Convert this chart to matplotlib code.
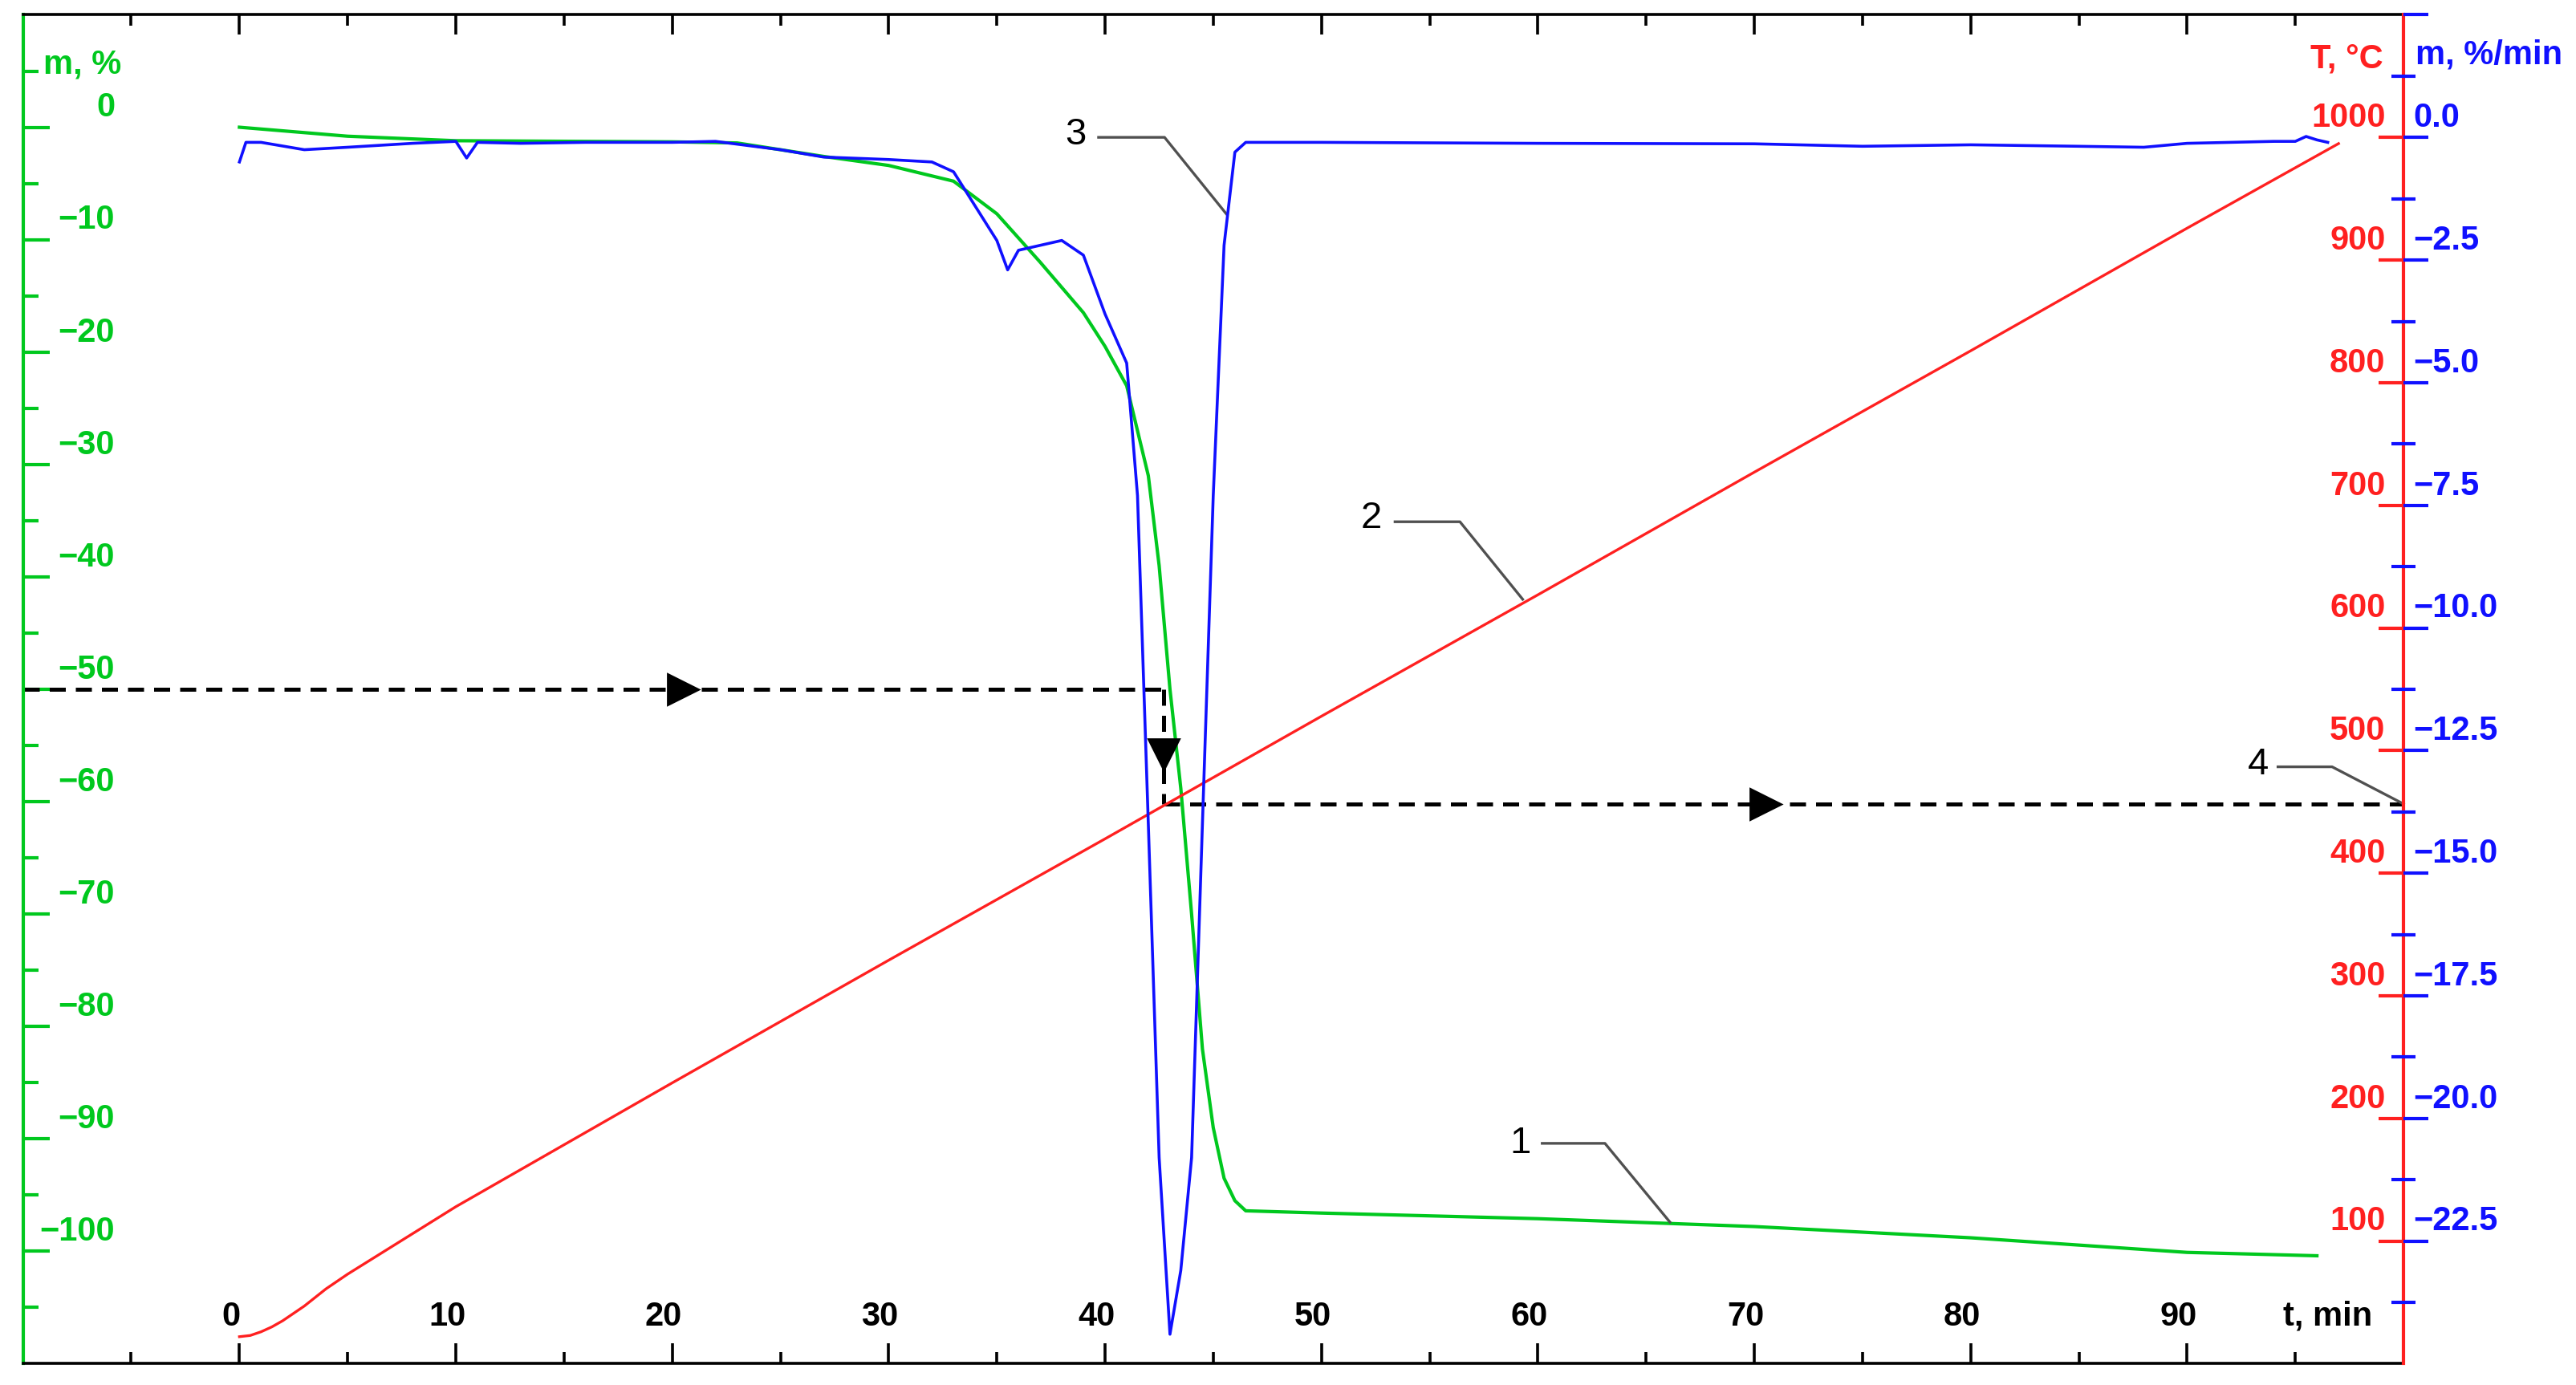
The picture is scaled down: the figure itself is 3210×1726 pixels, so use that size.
import matplotlib
matplotlib.use("Agg")
import matplotlib.pyplot as plt
import numpy as np

plt.rcParams['font.family'] = ['Liberation Sans', 'DejaVu Sans']

# --- data ---
tg_t = [0, 5, 10, 20, 23, 27, 30, 33, 35, 37, 39, 40, 41, 42, 42.5, 43, 43.5, 44, 44.5, 45, 45.5, 46, 46.5, 50, 60, 70, 80, 90, 96]
tg_m = [0, -0.8, -1.2, -1.3, -1.4, -2.6, -3.4, -4.8, -7.7, -12, -16.5, -19.5, -23, -31, -39, -50, -58.8, -70, -82, -89, -93.5, -95.5, -96.4, -96.6, -97.1, -97.8, -98.8, -100.1, -100.4]

T_t = [0, 0.5, 1, 1.5, 2, 2.5, 3, 3.5, 4, 5, 6, 10, 20, 30, 40, 50, 60, 70, 80, 90, 97]
T_val = [22, 23, 26, 30, 35, 41, 47, 54, 61, 73, 84, 128, 229, 329, 428, 528, 627, 727, 826, 926, 995]

dtg_t = [0, 0.3, 1, 3, 5, 8, 10, 10.5, 11, 13, 16, 20, 22, 25, 27, 30, 32, 33, 34, 35, 35.5, 36, 37, 38, 39, 40, 41, 41.5, 42, 42.5, 43, 43.5, 44, 44.5, 45, 45.5, 46, 46.5, 50, 60, 70, 75, 80, 85, 88, 90, 94, 95, 95.5, 96, 96.5]
dtg_v = [-0.5, -0.1, -0.1, -0.25, -0.2, -0.12, -0.08, -0.42, -0.1, -0.12, -0.1, -0.1, -0.08, -0.25, -0.4, -0.45, -0.5, -0.7, -1.4, -2.1, -2.7, -2.3, -2.2, -2.1, -2.4, -3.6, -4.6, -7.3, -14, -20.8, -24.4, -23.1, -20.8, -14, -7.3, -2.2, -0.3, -0.1, -0.1, -0.12, -0.13, -0.18, -0.15, -0.18, -0.2, -0.12, -0.08, -0.08, 0.02, -0.05, -0.1]

t_labels = [0, 10, 20, 30, 40, 50, 60, 70, 80, 90]
m_labels = [0, -10, -20, -30, -40, -50, -60, -70, -80, -90, -100]
T_labels = [100, 200, 300, 400, 500, 600, 700, 800, 900, 1000]
d_labels = [0.0, -2.5, -5.0, -7.5, -10.0, -12.5, -15.0, -17.5, -20.0, -22.5]

GREEN = '#00c81e'
RED = '#ff2020'
BLUE = '#1010ff'
FS = 15

fig = plt.figure(figsize=(16.05, 8.63), dpi=200)
ax = fig.add_axes([0.00893, 0.0154, 0.9241, 0.9739])
axT = ax.twinx()
axB = ax.twinx()

ax.set_xlim(-10, 100)
ax.set_ylim(-110, 10)
axT.set_ylim(0, 1100)
axB.set_ylim(-25, 2.5)

axT.plot(T_t, T_val, color=RED, lw=1.2)
ax.plot(tg_t, tg_m, color=GREEN, lw=1.5)
axB.plot(dtg_t, dtg_v, color=BLUE, lw=1.3)

# dashed guides
dk = dict(color='black', lw=1.8, ls=(0, (4, 2.5)))
ax.plot([-10, 42.7], [-50, -50], **dk)
ax.plot([42.7, 42.7], [-50, -60.2], **dk)
ax.plot([42.7, 100], [-60.2, -60.2], **dk)
ax.plot([20.5], [-50], marker='>', color='black', ms=14)
ax.plot([42.7], [-55.8], marker='v', color='black', ms=14)
ax.plot([70.5], [-60.2], marker='>', color='black', ms=14)

# spines
ax.spines['left'].set_color(GREEN); ax.spines['left'].set_linewidth(1.5)
ax.spines['right'].set_visible(False)
for s in ['top', 'bottom']:
    ax.spines[s].set_linewidth(1.3)
for a in (axT, axB):
    for s in ['left', 'top', 'bottom']:
        a.spines[s].set_visible(False)
axT.spines['right'].set_color(RED); axT.spines['right'].set_linewidth(1.5)
axB.spines['right'].set_visible(False)

# ticks
ax.set_xticks(np.arange(-10, 101, 10))
ax.set_xticks(np.arange(-5, 100, 5), minor=True)
ax.tick_params(axis='x', which='both', top=True, bottom=True, direction='in', labelbottom=False, color='black', width=1.3)
ax.tick_params(axis='x', which='major', length=9)
ax.tick_params(axis='x', which='minor', length=5)
ax.set_yticks(m_labels)
ax.set_yticks(np.arange(-105, 6, 10), minor=True)
ax.tick_params(axis='y', which='both', direction='in', labelleft=False, color=GREEN, width=1.5)
ax.tick_params(axis='y', which='major', length=12)
ax.tick_params(axis='y', which='minor', length=7)

axT.set_yticks(T_labels)
axT.tick_params(axis='y', direction='in', length=11, color=RED, width=1.5, labelright=False)
axB.set_yticks(d_labels + [2.5])
axB.set_yticks(np.arange(-23.75, 2.0, 2.5), minor=True)
axB.tick_params(axis='y', which='major', direction='out', length=11, color=BLUE, width=1.5, labelright=False)
axB.tick_params(axis='y', which='minor', direction='inout', length=11, color=BLUE, width=1.5)

# manual tick labels
off = dict(textcoords='offset points', fontsize=FS, fontweight='bold')
gtr = ax.get_yaxis_transform()
for v in m_labels:
    ax.annotate(f"{v}".replace('-', '\u2212'), (0.0386, v), xycoords=gtr, xytext=(0, 1.5),
                ha='right', va='bottom', color=GREEN, **off)
for v in T_labels:
    axT.annotate(f"{v}", (0.9924, v), xycoords=axT.get_yaxis_transform(), xytext=(0, 1.5),
                 ha='right', va='bottom', color=RED, **off)
for v in d_labels:
    axB.annotate(f"{v:.1f}".replace('-', '\u2212'), (1.004, v), xycoords=axB.get_yaxis_transform(), xytext=(0, 1.5),
                 ha='left', va='bottom', color=BLUE, **off)
xtr = ax.get_xaxis_transform()
for v in t_labels:
    ax.text(v - 0.4, 0.023, f"{v}", transform=xtr, ha='center', va='bottom', fontsize=FS, fontweight='bold', color='black')
ax.text(96.5, 0.023, "t, min", transform=xtr, ha='center', va='bottom', fontsize=FS, fontweight='bold')

# axis titles
ax.text(0.0085, 0.975, "m, %", transform=ax.transAxes, ha='left', va='top', color=GREEN, fontsize=FS, fontweight='bold')
ax.text(0.9915, 0.979, "T, °C", transform=ax.transAxes, ha='right', va='top', color=RED, fontsize=FS, fontweight='bold')
ax.text(1.005, 0.982, "m, %/min", transform=ax.transAxes, ha='left', va='top', color=BLUE, fontsize=FS, fontweight='bold')

# curve callouts
callouts = [
    ("3", (38.65, -0.7), [(39.7, 42.75, 45.6), (-0.9, -0.9, -7.7)]),
    ("2", (52.3, -34.8), [(53.4, 56.4, 59.3), (-35.1, -35.1, -42.0)]),
    ("1", (59.2, -90.4), [(60.2, 63.1, 66.1), (-90.4, -90.4, -97.4)]),
    ("4", (93.3, -56.7), [(94.2, 96.7, 100.0), (-56.9, -56.9, -60.2)]),
]
for lab, (tx, ty), (xs, ys) in callouts:
    ax.plot(xs, ys, color='#505050', lw=1.2, clip_on=False)
    ax.text(tx, ty, lab, ha='center', va='center', fontsize=17, color='black')

fig.savefig("out.png", dpi=200)
